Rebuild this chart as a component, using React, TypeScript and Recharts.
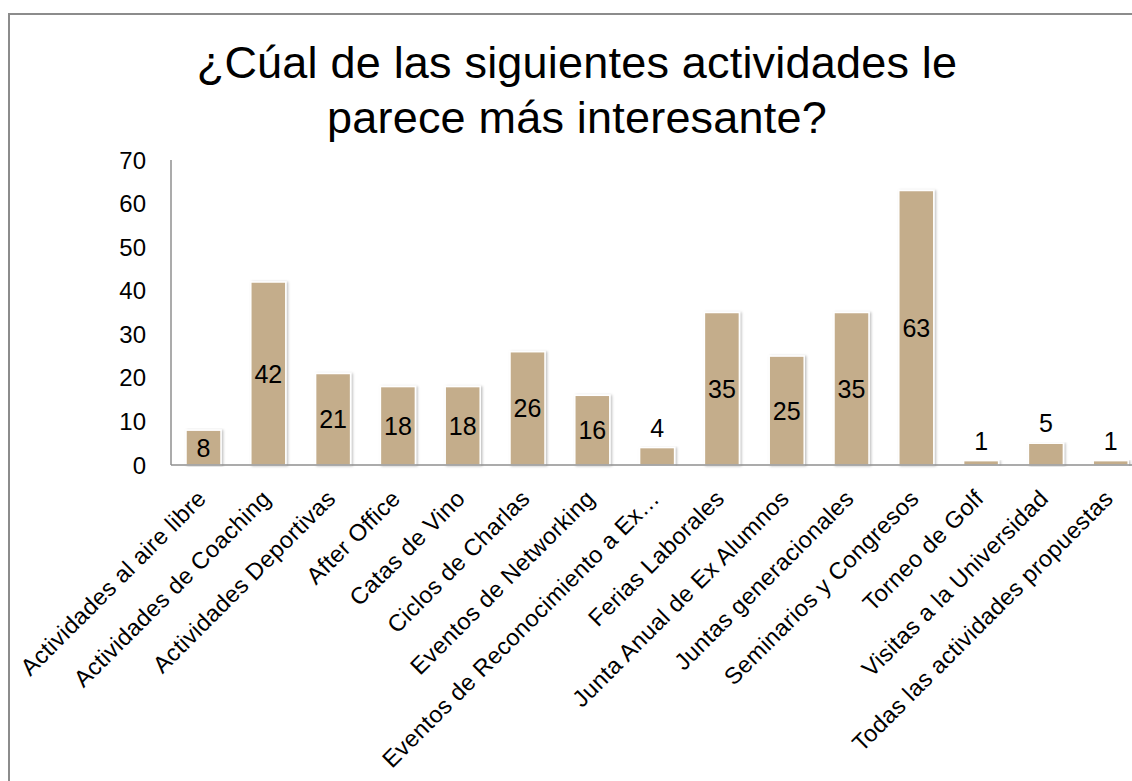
import { BarChart, Bar, XAxis, YAxis, LabelList } from 'recharts';

const categories = [
  'Actividades al aire libre',
  'Actividades de Coaching',
  'Actividades Deportivas',
  'After Office',
  'Catas de Vino',
  'Ciclos de Charlas',
  'Eventos de Networking',
  'Eventos de Reconocimiento a Ex…',
  'Ferias Laborales',
  'Junta Anual de Ex Alumnos',
  'Juntas generacionales',
  'Seminarios y Congresos',
  'Torneo de Golf',
  'Visitas a la Universidad',
  'Todas las actividades propuestas',
];

const responses = [8, 42, 21, 18, 18, 26, 16, 4, 35, 25, 35, 63, 1, 5, 1];

const yTicks = [0, 10, 20, 30, 40, 50, 60, 70];

const titleLines = ['¿Cúal de las siguientes actividades le', 'parece más interesante?'];

const data = categories.map((name, i) => ({ name, value: responses[i] }));

const FONT = '"Liberation Sans", Arial, sans-serif';
const BAR_COLOR = '#C4AD8B';
const AXIS_COLOR = '#8f8f8f';

function CategoryTick(props: any) {
  const { x, y, payload } = props;
  const ax = x + 4;
  const ay = y + 35;
  return (
    <text
      x={ax}
      y={ay}
      textAnchor="end"
      transform={`rotate(-45 ${ax} ${ay})`}
      fontSize={23.5}
      letterSpacing={0.35}
      fontFamily={FONT}
      fill="#000"
    >
      {payload.value}
    </text>
  );
}

function ValueLabel(props: any) {
  const { x, y, width, height, value } = props;
  const cx = Number(x) + Number(width) / 2;
  // small bars get the number above, the rest centred inside
  const inside = value >= 8;
  const ty = inside ? Number(y) + Number(height) / 2 + 9 : Number(y) - 11;
  return (
    <text x={cx} y={ty} textAnchor="middle" fontSize={25} fontFamily={FONT} fill="#000">
      {value}
    </text>
  );
}

function ShadowBar(props: any) {
  const { x, y, width, height } = props;
  return (
    <rect
      x={x}
      y={y}
      width={width}
      height={height}
      fill={BAR_COLOR}
      stroke="#fff"
      strokeWidth={1.5}
      filter="url(#barShadow)"
    />
  );
}

export default function App() {
  return (
    <div
      style={{
        position: 'fixed',
        left: 0,
        top: 0,
        width: 1132,
        height: 781,
        overflow: 'hidden',
        background: '#fff',
      }}
    >
      <div
        style={{
          position: 'absolute',
          left: 8,
          top: 13,
          width: 1200,
          height: 900,
          border: '2px solid #8c8c8c',
        }}
      />
      <div
        style={{
          position: 'absolute',
          left: 0,
          top: 35,
          width: 1154,
          textAlign: 'center',
          fontFamily: FONT,
          fontSize: 45,
          letterSpacing: 0.2,
          lineHeight: '55px',
          color: '#000',
        }}
      >
        {titleLines.map((line) => (
          <div key={line}>{line}</div>
        ))}
      </div>
      <div style={{ position: 'absolute', left: 0, top: 0 }}>
        <BarChart
          width={1180}
          height={781}
          data={data}
          margin={{ top: 160, right: 37, left: 111, bottom: 0 }}
          barSize={35}
        >
          <defs>
            <filter id="barShadow" x="-20%" y="-5%" width="140%" height="110%">
              <feDropShadow dx={1.5} dy={0.5} stdDeviation={1} floodColor="#000" floodOpacity={0.25} />
            </filter>
          </defs>
          <XAxis
            dataKey="name"
            interval={0}
            height={316}
            tickLine={false}
            tickSize={0}
            tickMargin={0}
            axisLine={{ stroke: AXIS_COLOR, strokeWidth: 1.5 }}
            tick={<CategoryTick />}
          />
          <YAxis
            width={60}
            domain={[0, 70]}
            ticks={yTicks}
            interval={0}
            tickLine={false}
            tickSize={0}
            tickMargin={25}
            axisLine={{ stroke: AXIS_COLOR, strokeWidth: 1.5 }}
            tick={{ fontSize: 24, fontFamily: FONT, fill: '#000' }}
          />
          <Bar dataKey="value" shape={<ShadowBar />} isAnimationActive={false}>
            <LabelList dataKey="value" content={<ValueLabel />} />
          </Bar>
        </BarChart>
      </div>
    </div>
  );
}
